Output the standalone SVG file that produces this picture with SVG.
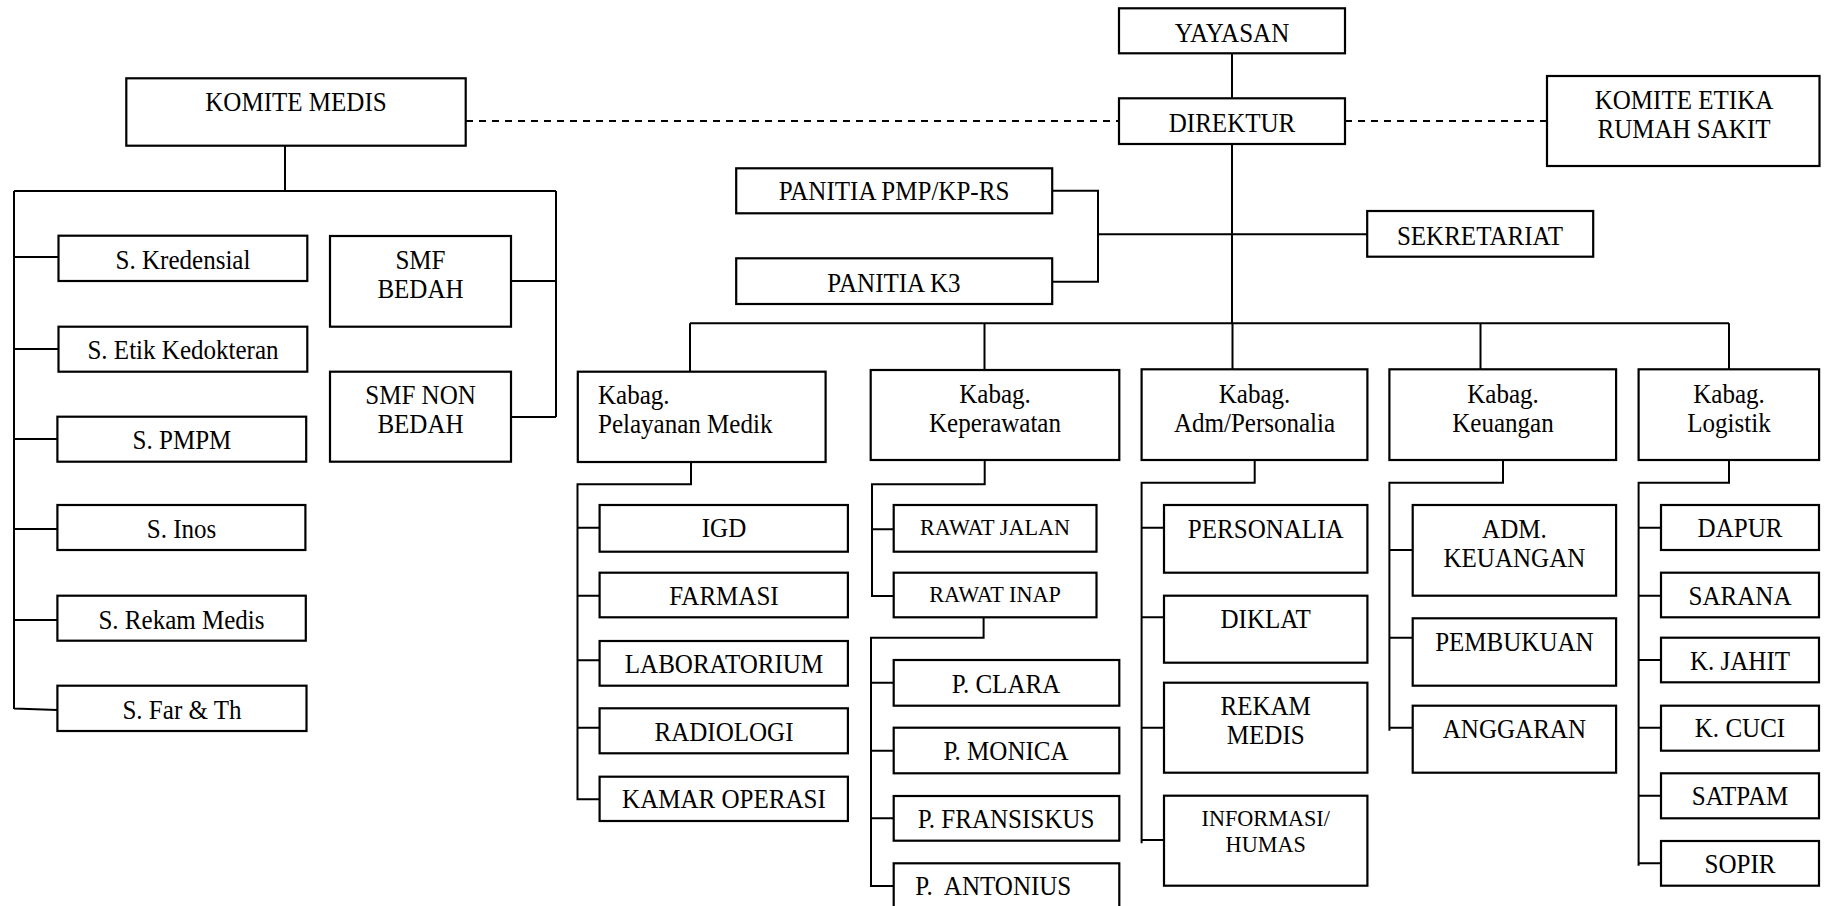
<svg xmlns="http://www.w3.org/2000/svg" width="1824" height="906" viewBox="0 0 1824 906" font-family="'Liberation Serif', 'Times New Roman', serif">
<style>
rect{fill:#fff;stroke:#000;stroke-width:2.2}
text{font-family:"Liberation Serif","Times New Roman",serif;font-size:26.5px;fill:#000;text-anchor:middle;transform-box:fill-box;transform-origin:50% 50%;transform:scaleX(0.945)}
.sm{font-size:23.5px}
.l{text-anchor:start;transform-origin:0% 50%}
#connectors path{fill:none;stroke:#000;stroke-width:2}
#connectors .dash{stroke-dasharray:7 6}
</style>
<rect x="0" y="0" width="1824" height="906" style="fill:#fff;stroke:none"/>
<g id="connectors">
<path class="dash" d="M466,121H1119M1345,121H1547"/>
<path d="M1232,53V98M1232,144V323.3M690,323.3H1729M690,323.3V371.5M984.5,323.3V370M1232.5,323.3V369.3M1480.5,323.3V369.3M1729,323.3V369.3"/>
<path d="M1052,190.7H1098V281.7H1052M1098,234.3H1367"/>
<path d="M285,146V191M14,191H556M14,191V709M556,191V417M14,257H58.5M14,349H58.5M14,439H57.5M14,529H57.5M14,620H57.5M14,708.5L57.5,710M511,281H556M511,417H556"/>
<path d="M691,462V484.3H577.5V799.3H599.6M577.5,527.7H599.6M577.5,595.7H599.6M577.5,660.3H599.6M577.5,727.7H599.6"/>
<path d="M984.7,460V484.3H872V596H893.7M872,529.3H893.7M983.6,617.3V637.7H871V886H893.7M871,682.7H893.7M871,750.7H893.7M871,818.3H893.7"/>
<path d="M1254.7,460V482.7H1141.6V843.3M1141.6,527.7H1164M1141.6,617.3H1164M1141.6,727.7H1164M1141.6,840H1164"/>
<path d="M1503,460V482.7H1389.4V730.7M1389.4,550H1412.7M1389.4,637.7H1412.7M1389.4,727.7H1412.7"/>
<path d="M1729,460V482.7H1638.6V865.7M1638.6,527.7H1661M1638.6,595.7H1661M1638.6,660H1661M1638.6,727.7H1661M1638.6,795.7H1661M1638.6,863.3H1661"/>
</g>
<g id="yayasan"><rect x="1119" y="8.3" width="226" height="45"/><text x="1232" y="41.7">YAYASAN</text></g>
<g id="direktur"><rect x="1119" y="98.3" width="226" height="45.7"/><text x="1232" y="131.7">DIREKTUR</text></g>
<g id="komite-medis"><rect x="126.3" y="78.3" width="339.4" height="67.4"/><text x="296" y="111">KOMITE MEDIS</text></g>
<g id="komite-etika"><rect x="1547" y="76" width="272.5" height="90"/><text x="1684" y="108.8">KOMITE ETIKA</text><text x="1684" y="138.3">RUMAH SAKIT</text></g>
<g id="panitia-pmp"><rect x="736.2" y="168.3" width="316" height="45"/><text x="894" y="200">PANITIA PMP/KP-RS</text></g>
<g id="panitia-k3"><rect x="736.2" y="258.3" width="316" height="45.7"/><text x="894" y="291.7">PANITIA K3</text></g>
<g id="sekretariat"><rect x="1367.2" y="211" width="226" height="45.7"/><text x="1480" y="245">SEKRETARIAT</text></g>
<g id="s-kredensial"><rect x="58.5" y="235.7" width="248.8" height="45.3"/><text x="183" y="269">S. Kredensial</text></g>
<g id="s-etik"><rect x="58.5" y="326.7" width="248.8" height="45"/><text x="183" y="359">S. Etik Kedokteran</text></g>
<g id="s-pmpm"><rect x="57.4" y="416.7" width="248.8" height="45"/><text x="182" y="449">S. PMPM</text></g>
<g id="s-inos"><rect x="57.4" y="505" width="248" height="45"/><text x="181.5" y="538">S. Inos</text></g>
<g id="s-rekam-medis"><rect x="57.4" y="595.7" width="248.4" height="45"/><text x="181.5" y="629">S. Rekam Medis</text></g>
<g id="s-far"><rect x="57.4" y="685.7" width="249.1" height="45.3"/><text x="182" y="719">S. Far &amp; Th</text></g>
<g id="smf-bedah"><rect x="330" y="236" width="181" height="90.7"/><text x="420.5" y="269">SMF</text><text x="420.5" y="298.3">BEDAH</text></g>
<g id="smf-non-bedah"><rect x="330" y="371.7" width="181" height="90"/><text x="420.5" y="404">SMF NON</text><text x="420.5" y="433.3">BEDAH</text></g>
<g id="kabag-pelayanan"><rect x="577.8" y="371.7" width="247.8" height="90.3"/><text class="l" x="598" y="404">Kabag.</text><text class="l" x="598" y="433.3">Pelayanan Medik</text></g>
<g id="kabag-keperawatan"><rect x="870.7" y="370" width="248.6" height="90"/><text x="995" y="402.7">Kabag.</text><text x="995" y="431.7">Keperawatan</text></g>
<g id="kabag-adm"><rect x="1141.6" y="369.3" width="225.8" height="90.7"/><text x="1254.5" y="402.7">Kabag.</text><text x="1254.5" y="431.7">Adm/Personalia</text></g>
<g id="kabag-keuangan"><rect x="1389.4" y="369.3" width="226.7" height="90.7"/><text x="1503" y="402.7">Kabag.</text><text x="1503" y="431.7">Keuangan</text></g>
<g id="kabag-logistik"><rect x="1638.6" y="369.3" width="180.5" height="90.7"/><text x="1729" y="402.7">Kabag.</text><text x="1729" y="431.7">Logistik</text></g>
<g id="igd"><rect x="599.6" y="505" width="248.3" height="46.7"/><text x="724" y="537.3">IGD</text></g>
<g id="farmasi"><rect x="599.6" y="572.7" width="248.3" height="44.6"/><text x="724" y="605">FARMASI</text></g>
<g id="laboratorium"><rect x="599.6" y="641" width="248.3" height="44.7"/><text x="724" y="673.3">LABORATORIUM</text></g>
<g id="radiologi"><rect x="599.6" y="708.3" width="248.3" height="45"/><text x="724" y="740.7">RADIOLOGI</text></g>
<g id="kamar-operasi"><rect x="599.6" y="776.7" width="248.3" height="44.3"/><text x="724" y="808.3">KAMAR OPERASI</text></g>
<g id="rawat-jalan"><rect x="893.7" y="505" width="202.8" height="46.7"/><text class="sm" x="995" y="535">RAWAT JALAN</text></g>
<g id="rawat-inap"><rect x="893.7" y="572.7" width="202.8" height="44.6"/><text class="sm" x="995" y="601.7">RAWAT INAP</text></g>
<g id="p-clara"><rect x="893.7" y="660" width="225.6" height="45.7"/><text x="1006" y="692.7">P. CLARA</text></g>
<g id="p-monica"><rect x="893.7" y="727.7" width="225.6" height="45.6"/><text x="1006" y="760">P. MONICA</text></g>
<g id="p-fransiskus"><rect x="893.7" y="796" width="225.6" height="44.7"/><text x="1006" y="828.3">P. FRANSISKUS</text></g>
<g id="p-antonius"><rect x="893.7" y="863.3" width="225.6" height="50"/><text x="993.3" y="895" xml:space="preserve">P.  ANTONIUS</text></g>
<g id="personalia"><rect x="1164" y="505" width="203.4" height="67.7"/><text x="1265.7" y="538.3">PERSONALIA</text></g>
<g id="diklat"><rect x="1164" y="595.7" width="203.4" height="67"/><text x="1265.7" y="628.3">DIKLAT</text></g>
<g id="rekam-medis"><rect x="1164" y="682.7" width="203.4" height="90"/><text x="1265.7" y="715">REKAM</text><text x="1265.7" y="744">MEDIS</text></g>
<g id="informasi-humas"><rect x="1164" y="795.7" width="203.4" height="90"/><text class="sm" x="1265.7" y="825.7">INFORMASI/</text><text class="sm" x="1265.7" y="852.3">HUMAS</text></g>
<g id="adm-keuangan"><rect x="1412.7" y="505" width="203.4" height="90.7"/><text x="1514.4" y="538.3">ADM.</text><text x="1514.4" y="567.3">KEUANGAN</text></g>
<g id="pembukuan"><rect x="1412.7" y="618.3" width="203.4" height="67.4"/><text x="1514.4" y="650.7">PEMBUKUAN</text></g>
<g id="anggaran"><rect x="1412.7" y="705.7" width="203.4" height="67"/><text x="1514.4" y="738.3">ANGGARAN</text></g>
<g id="dapur"><rect x="1661" y="505" width="158" height="45"/><text x="1740" y="537.3">DAPUR</text></g>
<g id="sarana"><rect x="1661" y="572.7" width="158" height="44.6"/><text x="1740" y="605">SARANA</text></g>
<g id="k-jahit"><rect x="1661" y="637.7" width="158" height="44.6"/><text x="1740" y="670">K. JAHIT</text></g>
<g id="k-cuci"><rect x="1661" y="705.7" width="158" height="45"/><text x="1740" y="737.3">K. CUCI</text></g>
<g id="satpam"><rect x="1661" y="773.3" width="158" height="45"/><text x="1740" y="805">SATPAM</text></g>
<g id="sopir"><rect x="1661" y="841" width="158" height="44.7"/><text x="1740" y="873.3">SOPIR</text></g>
</svg>
